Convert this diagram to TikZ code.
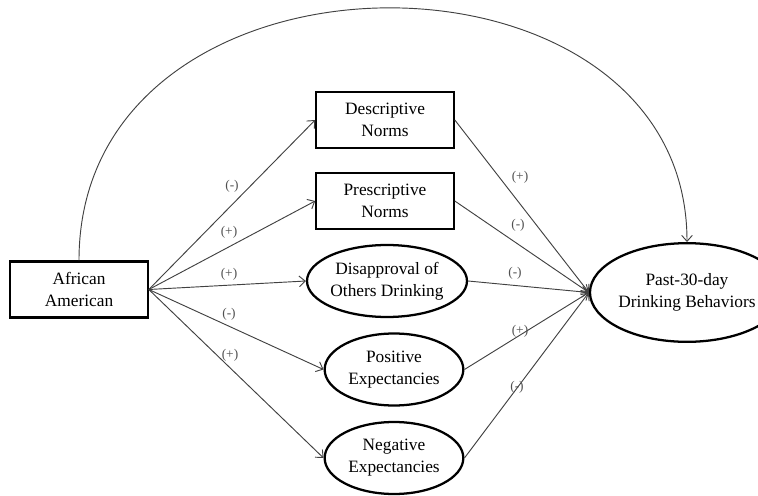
\documentclass[tikz,border=0pt]{standalone}
\usepackage{fontspec}
\setmainfont{Liberation Serif}
\usetikzlibrary{shapes,arrows,arrows.meta,positioning,calc}
\definecolor{linkgray}{RGB}{65,65,65}
\definecolor{signgray}{RGB}{80,80,80}

\begin{document}
\begin{tikzpicture}[x=0.75pt,y=-0.75pt,
    varbox/.style={draw, line width=1.7pt, rectangle, minimum width=103pt, minimum height=42pt,
        inner sep=0pt, align=center, font=\fontsize{13}{16.5}\selectfont},
    varoval/.style={draw, line width=1.7pt, ellipse, minimum width=103pt, minimum height=54pt,
        inner sep=0pt, align=center, font=\fontsize{13}{16.5}\selectfont},
    link/.style={-{Straight Barb[length=4.5pt,width=8pt]}, linkgray, line width=0.7pt},
    sign/.style={font=\fontsize{10}{11}\selectfont, text=signgray}]
    \useasboundingbox (0,0) rectangle (758,496);
    % Predictor
    \node[varbox] (aa) at (79,289.5) {African\\American};
    % Mediators
    \node[varbox] (desc) at (385,120) {Descriptive\\Norms};
    \node[varbox] (presc) at (385,201) {Prescriptive\\Norms};
    \node[varoval] (disap) at (387,281) {Disapproval of\\Others Drinking};
    \node[varoval, minimum width=104pt] (posex) at (394,369.5) {Positive\\Expectancies};
    \node[varoval, minimum width=104pt] (negex) at (394,458) {Negative\\Expectancies};
    % Outcome
    \node[varoval, minimum width=110pt, minimum height=74pt] (drink) at (687,292.5)
        {Past-30-day\\Drinking Behaviors};
    % Paths a
    \foreach \m in {desc,presc,disap,posex,negex} {
        \draw[link] (aa.east) -- (\m.west);
    }
    % Paths b
    \foreach \m in {desc,presc,disap,posex,negex} {
        \draw[link] (\m.east) -- (drink.west);
    }
    % Direct path
    \draw[link] (aa.north) .. controls (79,-73) and (687,-73) .. (drink.north);
    % Signs
    \node[sign] (sa1) at (232,186) {(-)};
    \node[sign] (sa2) at (229,232) {(+)};
    \node[sign] (sa3) at (229,274) {(+)};
    \node[sign] (sa4) at (229,314) {(-)};
    \node[sign] (sa5) at (230,355) {(+)};
    \node[sign] (sb1) at (520,177) {(+)};
    \node[sign] (sb2) at (518,225) {(-)};
    \node[sign] (sb3) at (515,273) {(-)};
    \node[sign] (sb4) at (520,331) {(+)};
    \node[sign] (sb5) at (517,387) {(-)};
\end{tikzpicture}
\end{document}
